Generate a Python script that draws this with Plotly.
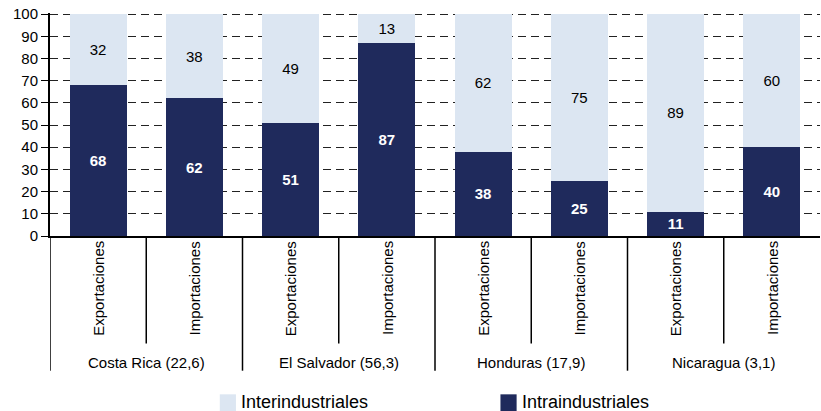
import plotly.graph_objects as go

# Shares of trade (%) by country and flow; country label carries its overall index
countries = ["Costa Rica (22,6)", "El Salvador (56,3)", "Honduras (17,9)", "Nicaragua (3,1)"]
flows = ["Exportaciones", "Importaciones"]
intra = [68, 62, 51, 87, 38, 25, 11, 40]
inter = [32, 38, 49, 13, 62, 75, 89, 60]
y_ticks = list(range(0, 101, 10))

NAVY = "#1F2A5C"
LIGHT = "#DCE6F2"
FONT = "Liberation Sans, Arial, sans-serif"

# one category per (country, flow) pair
cats = [f"{c}|{f}" for c in countries for f in flows]

fig = go.Figure()
fig.add_trace(go.Bar(
    x=cats, y=intra, name="Intraindustriales", marker=dict(color=NAVY, line=dict(width=0)),
    text=[str(v) for v in intra], textposition="inside", insidetextanchor="middle",
    textangle=0, textfont=dict(color="white", size=15, family=FONT, weight="bold"),
))
fig.add_trace(go.Bar(
    x=cats, y=inter, name="Interindustriales", marker=dict(color=LIGHT, line=dict(width=0)),
    text=[str(v) for v in inter], textposition="inside", insidetextanchor="middle",
    textangle=0, textfont=dict(color="black", size=15, family=FONT),
))

# hierarchical x labels drawn by hand: rotated flow names + country names below
for cat in cats:
    fig.add_annotation(x=cat, xref="x", y=-0.014, yref="paper", yanchor="top",
                       text=cat.split("|")[1], textangle=-90, showarrow=False,
                       font=dict(size=15, family=FONT, color="black"))
for k, c in enumerate(countries):
    fig.add_annotation(x=2 * k + 0.5, xref="x", y=-0.568, yref="paper", yanchor="middle",
                       text=c, showarrow=False, font=dict(size=15, family=FONT, color="black"))
    # long separator at the left of each country, short one between its two flows
    fig.add_shape(type="line", xref="x", yref="paper", x0=2 * k - 0.5, x1=2 * k - 0.5,
                  y0=0, y1=-0.604, line=dict(color="black", width=1.5))
    fig.add_shape(type="line", xref="x", yref="paper", x0=2 * k + 0.5, x1=2 * k + 0.5,
                  y0=0, y1=-0.482, line=dict(color="black", width=1.5))

# legend drawn by hand (bigger swatches, text close to them, inter first)
legend_items = [("Interindustriales", LIGHT, 0.2205), ("Intraindustriales", NAVY, 0.585)]
for label, color, lx in legend_items:
    fig.add_shape(type="rect", xref="paper", yref="paper", x0=lx, x1=lx + 0.021,
                  y0=-0.785, y1=-0.71, fillcolor=color, line=dict(width=0))
    fig.add_annotation(x=lx + 0.025, xref="paper", y=-0.745, yref="paper",
                       xanchor="left", yanchor="middle", text=label, showarrow=False,
                       font=dict(size=18, family=FONT, color="black"))

fig.update_layout(
    barmode="stack",
    bargap=0.41,
    width=821, height=411,
    margin=dict(l=50, r=1, t=13, b=175, autoexpand=False),
    paper_bgcolor="white", plot_bgcolor="white",
    font=dict(family=FONT, size=15, color="black"),
    showlegend=False,
)
fig.update_xaxes(showticklabels=False, ticks="", showline=True, linecolor="black",
                 linewidth=2, showgrid=False, range=[-0.5, 7.5])
# range a hair above 100 so the top gridline is still drawn
fig.update_yaxes(range=[0, 100.5], tickvals=y_ticks, showline=True, linecolor="black", linewidth=2,
                 ticks="outside", ticklen=7, tickcolor="black", tickwidth=1,
                 showgrid=True, gridcolor="#222222", griddash="8px,5px", gridwidth=1,
                 zeroline=False, tickfont=dict(size=15, family=FONT, color="black"))

# drop the browser's default 8px body margin so the figure sits at the page corner
fig.write_html("out.html", config={"displayModeBar": False},
               post_script="document.body.style.margin = '0px';")
